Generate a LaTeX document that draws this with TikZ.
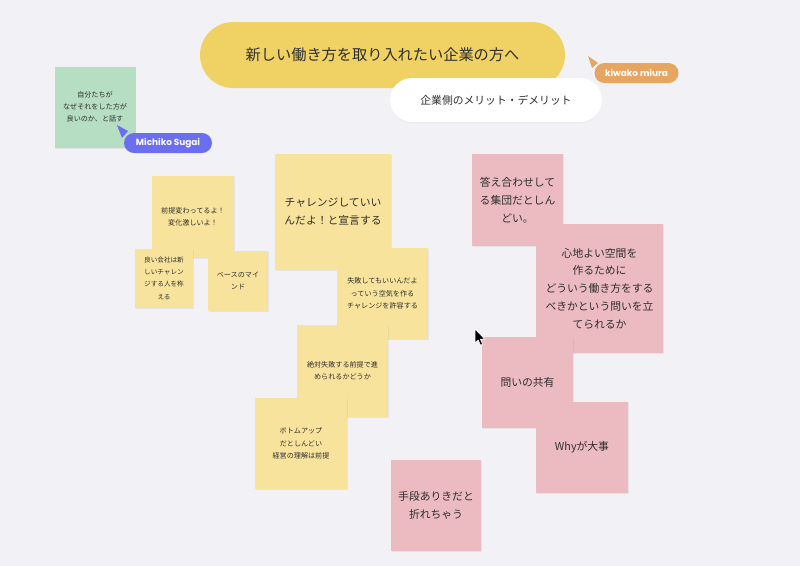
\documentclass[tikz,border=0pt]{standalone}
\usepackage{fontspec}
\setmainfont{Noto Sans CJK JP}
\newfontfamily\labelfont{Poppins}
\usetikzlibrary{shadows}
\definecolor{bg}{HTML}{F2F2F6}
\definecolor{titley}{HTML}{F0D264}
\definecolor{sticky}{HTML}{F8E39C}
\definecolor{pinky}{HTML}{EBBBC1}
\definecolor{greeny}{HTML}{B6DEC2}
\definecolor{bluey}{HTML}{6B6EEF}
\definecolor{orangey}{HTML}{E6A561}
\definecolor{ink}{HTML}{2E2E2E}
\tikzset{
  note/.style={inner sep=0pt, align=center, text=ink, drop shadow={shadow xshift=0.6pt, shadow yshift=-1pt, opacity=0.12}},
  yel/.style={note, fill=sticky},
  pnk/.style={note, fill=pinky},
  grn/.style={note, fill=greeny},
  small/.style={font=\fontsize{7.1}{12.2}\selectfont},
  big/.style={font=\fontsize{10.8}{17.8}\selectfont},
  userlabel/.style={rounded corners=10pt, inner sep=0pt, text=white, font=\labelfont\fontsize{8.9}{10}\selectfont\bfseries},
}
\begin{document}
\begin{tikzpicture}[x=1pt,y=-1pt]
\fill[bg] (0,0) rectangle (800,566);
\useasboundingbox (0,0) rectangle (800,566);

% title
\node[fill=titley, rounded corners=33pt, minimum width=365pt, minimum height=66pt, inner sep=0pt, text=ink, font=\fontsize{15.2}{18}\selectfont] (title) at (382.5,55) {新しい働き方を取り入れたい企業の方へ};
\node[fill=white, rounded corners=22pt, minimum width=212pt, minimum height=44pt, inner sep=0pt, text=ink, font=\fontsize{10.8}{13}\selectfont, drop shadow={shadow xshift=0pt, shadow yshift=-1pt, opacity=0.08}] (sub) at (496,100) {企業側のメリット・デメリット};

% kiwako cursor
\node[fill=orangey, userlabel, minimum width=84pt, minimum height=20pt] (kiwako) at (636.5,73) {kiwako miura};
\fill[orangey] (588,56) -- (598,63) -- (592,68) -- cycle;

% green note
\node[grn, small, minimum width=81pt, minimum height=81pt] (g1) at (95,107) {自分たちが\\なぜそれをした方が\\良いのか、と話す};
\node[fill=bluey, userlabel, minimum width=88pt, minimum height=20pt] (michiko) at (168,143) {Michiko Sugai};
\fill[bluey] (117,125) -- (128,131) -- (122,138) -- cycle;

% yellow notes
\node[yel, small, minimum width=82pt, minimum height=82pt] (y1) at (193,217) {前提変わってるよ！\\変化激しいよ！};
\node[yel, font=\fontsize{6.6}{12.4}\selectfont, minimum width=58pt, minimum height=59pt] (y2) at (164,278) {良い会社は新\\しいチャレン\\ジする人を称\\える};
\node[yel, small, minimum width=60pt, minimum height=60pt] (y3) at (238,281) {ベースのマイ\\ンド};
\node[yel, big, minimum width=116pt, minimum height=116pt] (y4) at (333,212) {チャレンジしていい\\んだよ！と宣言する};
\node[yel, small, minimum width=91pt, minimum height=91pt] (y5) at (382.5,293.5) {失敗してもいいんだよ\\っていう空気を作る\\チャレンジを許容する};
\node[yel, small, minimum width=91pt, minimum height=92pt] (y6) at (342.5,371) {絶対失敗する前提で進\\められるかどうか};
\node[yel, small, minimum width=92pt, minimum height=91pt] (y7) at (301,443.5) {ボトムアップ\\だとしんどい\\経営の理解は前提};

% pink notes
\node[pnk, big, minimum width=91pt, minimum height=92pt] (p1) at (517.5,200) {答え合わせして\\る集団だとしん\\どい。};
\node[pnk, big, minimum width=127pt, minimum height=129pt] (p2) at (599.5,288.5) {心地よい空間を\\作るために\\どういう働き方をする\\べきかという問いを立\\てられるか};
\node[pnk, big, minimum width=91pt, minimum height=91pt] (p3) at (527.5,382.5) {問いの共有};
\node[pnk, big, minimum width=92pt, minimum height=91pt] (p4) at (582,447.5) {Whyが大事};
\node[pnk, big, minimum width=90pt, minimum height=91pt] (p5) at (436,505.5) {手段ありきだと\\折れちゃう};

% mouse pointer
\filldraw[black, draw=white, line width=0.6pt, line join=round] (475,329) -- (475,343) -- (478.2,340) -- (480.5,345.2) -- (482.6,344.3) -- (480.4,339.2) -- (484.8,339.2) -- cycle;
\end{tikzpicture}
\end{document}
